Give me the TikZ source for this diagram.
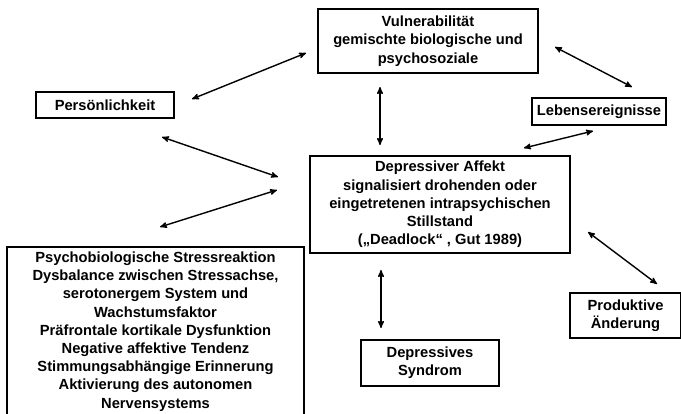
\documentclass[tikz,border=0pt]{standalone}
\usepackage{fontspec}
\setmainfont{Liberation Sans}
\usetikzlibrary{arrows,positioning}

\begin{document}
\begin{tikzpicture}[x=1pt,y=-1pt,>=stealth',
box/.style={draw,line width=1.7pt,align=center,inner sep=0pt,
    font=\fontsize{14.7}{18.2}\selectfont\bfseries},
link/.style={<->,line width=1.4pt}
    ]
\useasboundingbox (0,0) rectangle (681,413);
\clip (0,0) rectangle (681,413);
\node[box,minimum width=220,minimum height=64] (vuln) at (428,41) {Vulnerabilität\\gemischte biologische und\\psychosoziale};
\node[box,minimum width=138,minimum height=26] (pers) at (105,105) {Persönlichkeit};
\node[box,minimum width=134,minimum height=27] (leben) at (599,111.5) {Lebensereignisse};
\node[box,minimum width=260,minimum height=97] (affekt) at (440,204.5) {Depressiver Affekt\\signalisiert drohenden oder\\eingetretenen intrapsychischen\\Stillstand\\(„Deadlock“ , Gut 1989)};
\node[box,minimum width=297,inner ysep=5pt,anchor=north] (stress) at (155.5,246) {Psychobiologische Stressreaktion\\Dysbalance zwischen Stressachse,\\serotonergem System und\\Wachstumsfaktor\\Präfrontale kortikale Dysfunktion\\Negative affektive Tendenz\\Stimmungsabhängige Erinnerung\\Aktivierung des autonomen\\Nervensystems};
\node[box,minimum width=138,minimum height=46] (syndrom) at (430,363) {Depressives\\Syndrom};
\node[box,minimum width=111,minimum height=45] (produktiv) at (625.5,315.5) {Produktive\\Änderung};

% arrow ends
\coordinate (pv1) at (192,99);  \coordinate (pv2) at (306,53);
\coordinate (vl1) at (555,47);  \coordinate (vl2) at (632,87);
\coordinate (va1) at (380,87);  \coordinate (va2) at (380,145);
\coordinate (la1) at (593,131); \coordinate (la2) at (524,148);
\coordinate (pa1) at (162,137); \coordinate (pa2) at (278,177);
\coordinate (sa1) at (160,227); \coordinate (sa2) at (277,190);
\coordinate (ap1) at (588,232); \coordinate (ap2) at (657,284);
\coordinate (as1) at (381,270); \coordinate (as2) at (381,328);

\draw[link] (pv1) -- (pv2);
\draw[link] (vl1) -- (vl2);
\draw[link] (va1) -- (va2);
\draw[link] (la1) -- (la2);
\draw[link] (pa1) -- (pa2);
\draw[link] (sa1) -- (sa2);
\draw[link] (ap1) -- (ap2);
\draw[link] (as1) -- (as2);
\end{tikzpicture}
\end{document}
